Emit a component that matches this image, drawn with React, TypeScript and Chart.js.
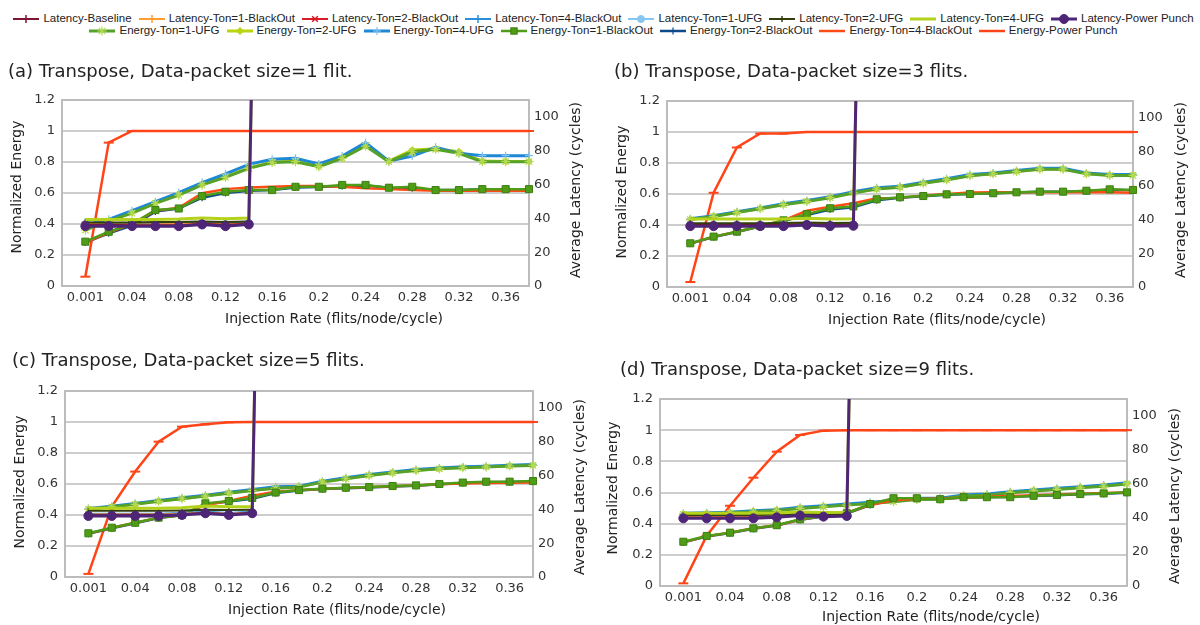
import React, { useEffect, useRef } from 'react';
import { Chart, registerables } from 'chart.js';
Chart.register(...registerables);

const FONT = '"DejaVu Sans", sans-serif';
const LEGEND_FONT = '"Liberation Sans", Arial, sans-serif';
const _ = null;

// ---------- categories & ticks ----------
const categories = ['0.001', '0.02', '0.04', '0.06', '0.08', '0.1', '0.12', '0.14', '0.16', '0.18', '0.2', '0.22', '0.24', '0.26', '0.28', '0.3', '0.32', '0.34', '0.36', '0.38'];
const xLabelIndices = [0, 2, 4, 6, 8, 10, 12, 14, 16, 18];
const energyTickValues = [0, 0.2, 0.4, 0.6, 0.8, 1.0, 1.2];
const energyTickLabels = ['0', '0.2', '0.4', '0.6', '0.8', '1', '1.2'];
const latencyTickValues = [0, 20, 40, 60, 80, 100];
const latencyTickLabels = ['0', '20', '40', '60', '80', '100'];

const seriesNames = [
  'Latency-Baseline', 'Latency-Ton=1-BlackOut', 'Latency-Ton=2-BlackOut', 'Latency-Ton=4-BlackOut',
  'Latency-Ton=1-UFG', 'Latency-Ton=2-UFG', 'Latency-Ton=4-UFG', 'Latency-Power Punch',
  'Energy-Ton=1-UFG', 'Energy-Ton=2-UFG', 'Energy-Ton=4-UFG', 'Energy-Ton=1-BlackOut',
  'Energy-Ton=2-BlackOut', 'Energy-Ton=4-BlackOut', 'Energy-Power Punch',
];

// ---------- panel (a) size=1 ----------
const aLatBaseline = [36.2, 36.2, 36.0, 36.0, 36.0, 36.8, 36.2, 36.8, _, _, _, _, _, _, _, _, _, _, _, _];
const aLatT1BO = [36.6, 36.4, 36.4, 36.4, 36.6, 37.0, 36.6, 37.0, _, _, _, _, _, _, _, _, _, _, _, _];
const aLatT2BO = [36.4, 36.2, 36.2, 36.2, 36.4, 36.9, 36.4, 36.9, _, _, _, _, _, _, _, _, _, _, _, _];
const aLatT4BO = [37.6, 37.2, 37.0, 37.0, 37.2, 37.6, 37.2, 37.6, _, _, _, _, _, _, _, _, _, _, _, _];
const aLatT1UFG = [36.8, 36.8, 36.6, 36.6, 36.8, 37.2, 36.8, 37.2, _, _, _, _, _, _, _, _, _, _, _, _];
const aLatT2UFG = [37.6, 37.6, 37.6, 37.8, 37.8, 38.2, 37.8, 38.2, _, _, _, _, _, _, _, _, _, _, _, _];
const aLatT4UFG = [39.4, 39.4, 39.4, 39.4, 39.6, 40.2, 39.8, 40.2, 700, _, _, _, _, _, _, _, _, _, _, _];
const aLatPP = [35.4, 35.4, 35.4, 35.4, 35.4, 36.4, 35.4, 36.4, 750, _, _, _, _, _, _, _, _, _, _, _];
const aEnT1UFG = [0.36, 0.42, 0.47, 0.533, 0.586, 0.652, 0.701, 0.759, 0.796, 0.802, 0.77, 0.824, 0.903, 0.802, 0.866, 0.882, 0.856, 0.802, 0.802, 0.802];
const aEnT2UFG = [0.37, 0.42, 0.475, 0.537, 0.59, 0.655, 0.705, 0.762, 0.8, 0.806, 0.773, 0.828, 0.906, 0.806, 0.877, 0.885, 0.866, 0.806, 0.804, 0.804];
const aEnT4UFG = [0.39, 0.43, 0.486, 0.544, 0.602, 0.667, 0.723, 0.785, 0.817, 0.824, 0.787, 0.839, 0.925, 0.806, 0.839, 0.895, 0.856, 0.841, 0.841, 0.841];
const aEnT1BO = [0.286, 0.35, 0.4, 0.49, 0.5, 0.58, 0.608, 0.619, 0.619, 0.64, 0.64, 0.652, 0.652, 0.634, 0.64, 0.619, 0.619, 0.625, 0.625, 0.625];
const aEnT2BO = [0.28, 0.34, 0.39, 0.48, 0.5, 0.57, 0.6, 0.615, 0.62, 0.635, 0.638, 0.645, 0.648, 0.634, 0.63, 0.62, 0.62, 0.625, 0.625, 0.625];
const aEnT4BO = [0.28, 0.345, 0.4, 0.486, 0.505, 0.598, 0.625, 0.636, 0.64, 0.645, 0.645, 0.64, 0.63, 0.625, 0.619, 0.615, 0.615, 0.615, 0.615, 0.615];
const aEnPP = [0.06, 0.925, 1, 1, 1, 1, 1, 1, 1, 1, 1, 1, 1, 1, 1, 1, 1, 1, 1, 1];

// ---------- panel (b) size=3 ----------
const bLatBaseline = [36.6, 36.6, 36.6, 36.6, 36.6, 37.2, 36.6, 36.8, _, _, _, _, _, _, _, _, _, _, _, _];
const bLatT1BO = [36.8, 36.8, 36.8, 36.8, 36.8, 37.4, 36.8, 37.0, _, _, _, _, _, _, _, _, _, _, _, _];
const bLatT2BO = [36.7, 36.7, 36.7, 36.7, 36.7, 37.3, 36.7, 36.9, _, _, _, _, _, _, _, _, _, _, _, _];
const bLatT4BO = [37.2, 37.2, 37.2, 37.2, 37.2, 37.6, 37.2, 37.4, _, _, _, _, _, _, _, _, _, _, _, _];
const bLatT1UFG = [37.0, 37.0, 37.0, 37.0, 37.0, 37.5, 37.0, 37.2, _, _, _, _, _, _, _, _, _, _, _, _];
const bLatT2UFG = [37.7, 37.7, 37.7, 37.7, 37.8, 38.2, 37.8, 38.0, _, _, _, _, _, _, _, _, _, _, _, _];
const bLatT4UFG = [40.2, 40.2, 40.2, 40.2, 40.2, 40.6, 40.2, 40.4, 700, _, _, _, _, _, _, _, _, _, _, _];
const bLatPP = [36.0, 36.0, 36.0, 36.0, 36.0, 36.6, 36.0, 36.2, 750, _, _, _, _, _, _, _, _, _, _, _];
const bEnT1UFG = [0.435, 0.455, 0.48, 0.505, 0.531, 0.552, 0.576, 0.607, 0.632, 0.643, 0.669, 0.691, 0.718, 0.73, 0.745, 0.76, 0.76, 0.73, 0.72, 0.72];
const bEnT2UFG = [0.437, 0.457, 0.482, 0.507, 0.533, 0.554, 0.578, 0.609, 0.634, 0.645, 0.671, 0.693, 0.72, 0.732, 0.747, 0.762, 0.762, 0.732, 0.722, 0.724];
const bEnT4UFG = [0.44, 0.46, 0.485, 0.51, 0.537, 0.558, 0.582, 0.614, 0.64, 0.65, 0.676, 0.698, 0.726, 0.736, 0.751, 0.766, 0.766, 0.736, 0.726, 0.726];
const bEnT1BO = [0.282, 0.325, 0.357, 0.394, 0.43, 0.47, 0.508, 0.52, 0.566, 0.579, 0.587, 0.598, 0.6, 0.605, 0.611, 0.615, 0.615, 0.621, 0.63, 0.626];
const bEnT2BO = [0.28, 0.322, 0.355, 0.39, 0.425, 0.465, 0.5, 0.515, 0.56, 0.575, 0.585, 0.595, 0.6, 0.605, 0.61, 0.615, 0.615, 0.62, 0.628, 0.625];
const bEnT4BO = [0.28, 0.325, 0.357, 0.394, 0.43, 0.492, 0.518, 0.54, 0.572, 0.575, 0.59, 0.6, 0.61, 0.611, 0.611, 0.611, 0.611, 0.611, 0.611, 0.608];
const bEnPP = [0.032, 0.608, 0.9, 0.99, 0.99, 1, 1, 1, 1, 1, 1, 1, 1, 1, 1, 1, 1, 1, 1, 1];

// ---------- panel (c) size=5 ----------
const cLatBaseline = [36.6, 36.6, 36.6, 36.6, 37.0, 38.0, 37.0, 38.0, _, _, _, _, _, _, _, _, _, _, _, _];
const cLatT1BO = [36.9, 36.9, 36.9, 36.9, 37.2, 38.2, 37.2, 38.2, _, _, _, _, _, _, _, _, _, _, _, _];
const cLatT2BO = [36.8, 36.8, 36.8, 36.8, 37.1, 38.1, 37.1, 38.1, _, _, _, _, _, _, _, _, _, _, _, _];
const cLatT4BO = [37.4, 37.4, 37.4, 37.4, 37.8, 38.6, 37.8, 38.6, _, _, _, _, _, _, _, _, _, _, _, _];
const cLatT1UFG = [37.1, 37.1, 37.1, 37.1, 37.5, 38.4, 37.5, 38.4, _, _, _, _, _, _, _, _, _, _, _, _];
const cLatT2UFG = [39.2, 39.2, 39.2, 39.2, 39.4, 39.8, 39.6, 39.8, _, _, _, _, _, _, _, _, _, _, _, _];
const cLatT4UFG = [40.6, 40.6, 40.6, 40.6, 41.0, 42.0, 41.5, 41.5, 700, _, _, _, _, _, _, _, _, _, _, _];
const cLatPP = [36.1, 36.1, 36.1, 36.1, 36.7, 37.7, 36.7, 37.7, 750, _, _, _, _, _, _, _, _, _, _, _];
const cEnT1UFG = [0.437, 0.452, 0.469, 0.488, 0.505, 0.522, 0.541, 0.558, 0.572, 0.58, 0.612, 0.634, 0.655, 0.672, 0.687, 0.698, 0.705, 0.71, 0.716, 0.72];
const cEnT2UFG = [0.439, 0.454, 0.471, 0.49, 0.507, 0.524, 0.543, 0.56, 0.575, 0.582, 0.614, 0.636, 0.657, 0.674, 0.689, 0.7, 0.707, 0.712, 0.718, 0.722];
const cEnT4UFG = [0.442, 0.457, 0.474, 0.493, 0.511, 0.528, 0.547, 0.564, 0.582, 0.586, 0.618, 0.64, 0.661, 0.678, 0.693, 0.704, 0.711, 0.715, 0.721, 0.726];
const cEnT1BO = [0.282, 0.318, 0.35, 0.383, 0.4, 0.475, 0.49, 0.51, 0.545, 0.561, 0.57, 0.576, 0.58, 0.587, 0.591, 0.6, 0.609, 0.615, 0.615, 0.619];
const cEnT2BO = [0.279, 0.315, 0.347, 0.38, 0.398, 0.47, 0.487, 0.505, 0.542, 0.558, 0.567, 0.573, 0.578, 0.584, 0.589, 0.598, 0.606, 0.612, 0.613, 0.616];
const cEnT4BO = [0.28, 0.318, 0.35, 0.383, 0.4, 0.465, 0.49, 0.525, 0.55, 0.56, 0.57, 0.575, 0.58, 0.585, 0.59, 0.598, 0.603, 0.606, 0.608, 0.61];
const cEnPP = [0.02, 0.454, 0.68, 0.873, 0.97, 0.985, 0.998, 1, 1, 1, 1, 1, 1, 1, 1, 1, 1, 1, 1, 1];

// ---------- panel (d) size=9 ----------
const dLatBaseline = [40.2, 40.2, 40.2, 40.2, 40.8, 41.8, 41.2, 41.6, _, _, _, _, _, _, _, _, _, _, _, _];
const dLatT1BO = [40.5, 40.5, 40.5, 40.5, 41.0, 42.0, 41.4, 41.8, _, _, _, _, _, _, _, _, _, _, _, _];
const dLatT2BO = [40.4, 40.4, 40.4, 40.4, 40.9, 41.9, 41.3, 41.7, _, _, _, _, _, _, _, _, _, _, _, _];
const dLatT4BO = [40.9, 40.9, 40.9, 40.9, 41.3, 42.2, 41.6, 42.0, _, _, _, _, _, _, _, _, _, _, _, _];
const dLatT1UFG = [40.6, 40.6, 40.6, 40.6, 41.1, 42.1, 41.5, 41.9, _, _, _, _, _, _, _, _, _, _, _, _];
const dLatT2UFG = [41.8, 41.8, 41.8, 41.8, 42.0, 42.6, 42.2, 42.4, _, _, _, _, _, _, _, _, _, _, _, _];
const dLatT4UFG = [42.8, 42.8, 42.8, 42.8, 43.0, 43.6, 43.2, 43.4, 700, _, _, _, _, _, _, _, _, _, _, _];
const dLatPP = [39.8, 39.8, 39.8, 39.8, 40.4, 41.4, 40.8, 41.2, 750, _, _, _, _, _, _, _, _, _, _, _];
const dEnT1UFG = [0.46, 0.463, 0.468, 0.476, 0.484, 0.498, 0.508, 0.519, 0.53, 0.541, 0.555, 0.556, 0.577, 0.583, 0.598, 0.61, 0.62, 0.63, 0.64, 0.655];
const dEnT2UFG = [0.463, 0.466, 0.471, 0.479, 0.487, 0.501, 0.511, 0.522, 0.533, 0.544, 0.558, 0.559, 0.58, 0.586, 0.601, 0.613, 0.623, 0.633, 0.644, 0.659];
const dEnT4UFG = [0.467, 0.47, 0.474, 0.483, 0.49, 0.505, 0.515, 0.526, 0.537, 0.548, 0.563, 0.563, 0.584, 0.59, 0.605, 0.616, 0.627, 0.637, 0.648, 0.663];
const dEnT1BO = [0.284, 0.321, 0.342, 0.37, 0.39, 0.428, 0.449, 0.467, 0.526, 0.563, 0.563, 0.557, 0.57, 0.57, 0.57, 0.579, 0.584, 0.59, 0.594, 0.601];
const dEnT2BO = [0.28, 0.318, 0.34, 0.368, 0.388, 0.425, 0.446, 0.465, 0.52, 0.555, 0.56, 0.558, 0.568, 0.57, 0.572, 0.578, 0.583, 0.588, 0.592, 0.598];
const dEnT4BO = [0.28, 0.32, 0.342, 0.37, 0.39, 0.425, 0.45, 0.47, 0.52, 0.55, 0.56, 0.562, 0.567, 0.572, 0.577, 0.582, 0.587, 0.592, 0.596, 0.6];
const dEnPP = [0.017, 0.323, 0.515, 0.695, 0.862, 0.969, 0.997, 1, 1, 1, 1, 1, 1, 1, 1, 1, 1, 1, 1, 1];

// ---------- styles ----------
type Marker = 'cross' | 'crossRot' | 'star' | 'circle' | 'rect' | 'rectRot' | 'line' | 'vline' | 'none';
type SeriesStyle = {
  axis: 'y' | 'y1'; color: string; width: number; marker: Marker; radius: number;
  fill: string; stroke: string; pbw: number; order: number;
};
const seriesStyles: SeriesStyle[] = [
  { axis: 'y1', color: '#7e1533', width: 2, marker: 'cross', radius: 4, fill: '#7e1533', stroke: '#7e1533', pbw: 1.5, order: 3 },
  { axis: 'y1', color: '#ff9d2e', width: 2, marker: 'cross', radius: 4, fill: '#ff9d2e', stroke: '#ff9d2e', pbw: 1.5, order: 3 },
  { axis: 'y1', color: '#d81b27', width: 2, marker: 'crossRot', radius: 4, fill: '#d81b27', stroke: '#d81b27', pbw: 1.5, order: 3 },
  { axis: 'y1', color: '#2a8fdb', width: 2, marker: 'cross', radius: 4, fill: '#2a8fdb', stroke: '#2a8fdb', pbw: 1.5, order: 3 },
  { axis: 'y1', color: '#86c7f2', width: 2, marker: 'circle', radius: 3.5, fill: '#86c7f2', stroke: '#86c7f2', pbw: 1, order: 3 },
  { axis: 'y1', color: '#323e0e', width: 2, marker: 'vline', radius: 3, fill: '#323e0e', stroke: '#323e0e', pbw: 1.5, order: 2 },
  { axis: 'y1', color: '#b4d21c', width: 3, marker: 'none', radius: 0, fill: '#b4d21c', stroke: '#b4d21c', pbw: 0, order: 1 },
  { axis: 'y1', color: '#4e2577', width: 3, marker: 'circle', radius: 4.5, fill: '#4e2577', stroke: '#4e2577', pbw: 1, order: 0 },
  { axis: 'y', color: '#56a129', width: 3, marker: 'star', radius: 4.5, fill: '#b5da52', stroke: '#b5da52', pbw: 1.2, order: 5 },
  { axis: 'y', color: '#bad412', width: 3, marker: 'rectRot', radius: 3.5, fill: '#bad412', stroke: '#bad412', pbw: 1, order: 7 },
  { axis: 'y', color: '#1e88d6', width: 3, marker: 'cross', radius: 4, fill: '#7fc1ee', stroke: '#7fc1ee', pbw: 1.2, order: 6 },
  { axis: 'y', color: '#4f9c17', width: 2.5, marker: 'rect', radius: 5, fill: '#4f9c17', stroke: '#3d7f10', pbw: 1, order: 3 },
  { axis: 'y', color: '#0c4a8a', width: 2.5, marker: 'cross', radius: 3.5, fill: '#0c4a8a', stroke: '#0c4a8a', pbw: 1.2, order: 5 },
  { axis: 'y', color: '#ff4b16', width: 2.5, marker: 'none', radius: 0, fill: '#ff4b16', stroke: '#ff4b16', pbw: 0, order: 4 },
  { axis: 'y', color: '#ff4417', width: 2.5, marker: 'line', radius: 5, fill: '#ff4417', stroke: '#ff4417', pbw: 2, order: 8 },
];

type Geo = {
  cx: number; cy: number; cw: number; ch: number;
  pl: number; pr: number; pt: number; pb: number;
  title: [number, number]; yTitle: [number, number]; rTitle: [number, number]; xTitle: [number, number];
};
type PanelDef = { title: string; values: (number | null)[][]; geo: Geo };

const panels: PanelDef[] = [
  {
    title: '(a) Transpose, Data-packet size=1 flit.',
    values: [aLatBaseline, aLatT1BO, aLatT2BO, aLatT4BO, aLatT1UFG, aLatT2UFG, aLatT4UFG, aLatPP, aEnT1UFG, aEnT2UFG, aEnT4UFG, aEnT1BO, aEnT2BO, aEnT4BO, aEnPP],
    geo: { cx: 0, cy: 45, cw: 600, ch: 290, pl: 62, pr: 529, pt: 100, pb: 286, title: [8, 72], yTitle: [17, 187], rTitle: [576, 190], xTitle: [334, 319] },
  },
  {
    title: '(b) Transpose, Data-packet size=3 flits.',
    values: [bLatBaseline, bLatT1BO, bLatT2BO, bLatT4BO, bLatT1UFG, bLatT2UFG, bLatT4UFG, bLatPP, bEnT1UFG, bEnT2UFG, bEnT4UFG, bEnT1BO, bEnT2BO, bEnT4BO, bEnPP],
    geo: { cx: 600, cy: 45, cw: 600, ch: 290, pl: 667, pr: 1133, pt: 101, pb: 287, title: [614, 72], yTitle: [622, 192], rTitle: [1181, 190], xTitle: [937, 320] },
  },
  {
    title: '(c) Transpose, Data-packet size=5 flits.',
    values: [cLatBaseline, cLatT1BO, cLatT2BO, cLatT4BO, cLatT1UFG, cLatT2UFG, cLatT4UFG, cLatPP, cEnT1UFG, cEnT2UFG, cEnT4UFG, cEnT1BO, cEnT2BO, cEnT4BO, cEnPP],
    geo: { cx: 0, cy: 335, cw: 600, ch: 290, pl: 65, pr: 533, pt: 391, pb: 577, title: [12, 361], yTitle: [20, 482], rTitle: [580, 487], xTitle: [337, 610] },
  },
  {
    title: '(d) Transpose, Data-packet size=9 flits.',
    values: [dLatBaseline, dLatT1BO, dLatT2BO, dLatT4BO, dLatT1UFG, dLatT2UFG, dLatT4UFG, dLatPP, dEnT1UFG, dEnT2UFG, dEnT4UFG, dEnT1BO, dEnT2BO, dEnT4BO, dEnPP],
    geo: { cx: 600, cy: 335, cw: 600, ch: 290, pl: 660, pr: 1127, pt: 399, pb: 586, title: [620, 370], yTitle: [613, 488], rTitle: [1175, 496], xTitle: [931, 617] },
  },
];

const Y_TITLE = 'Normalized Energy';
const R_TITLE = 'Average Latency (cycles)';
const X_TITLE = 'Injection Rate (flits/node/cycle)';

function chartPointStyle(m: Marker): any {
  if (m === 'vline') return 'line';
  if (m === 'none') return 'circle';
  return m;
}

const framePlugin = {
  id: 'frame',
  beforeDatasetsDraw(chart: any) {
    const { ctx, chartArea: a } = chart;
    ctx.save();
    ctx.strokeStyle = '#bcbcbc';
    ctx.lineWidth = 2;
    ctx.strokeRect(a.left, a.top, a.right - a.left, a.bottom - a.top);
    ctx.restore();
  },
};

function makeTextPlugin(p: PanelDef) {
  const g = p.geo;
  return {
    id: 'panelText',
    afterDraw(chart: any) {
      const ctx = chart.ctx as CanvasRenderingContext2D;
      ctx.save();
      ctx.fillStyle = '#222';
      ctx.textBaseline = 'middle';
      ctx.font = `18px ${FONT}`;
      ctx.textAlign = 'left';
      ctx.fillText(p.title, g.title[0] - g.cx, g.title[1] - g.cy);
      ctx.font = `14px ${FONT}`;
      ctx.textAlign = 'center';
      ctx.fillText(X_TITLE, g.xTitle[0] - g.cx, g.xTitle[1] - g.cy);
      const rot = (t: string, x: number, y: number) => {
        ctx.save();
        ctx.translate(x - g.cx, y - g.cy);
        ctx.rotate(-Math.PI / 2);
        ctx.fillText(t, 0, 0);
        ctx.restore();
      };
      rot(Y_TITLE, g.yTitle[0], g.yTitle[1]);
      rot(R_TITLE, g.rTitle[0], g.rTitle[1]);
      ctx.restore();
    },
  };
}

function Panel({ p }: { p: PanelDef }) {
  const ref = useRef<HTMLCanvasElement | null>(null);
  const g = p.geo;
  useEffect(() => {
    if (!ref.current) return;
    const datasets = seriesStyles.map((s, k) => ({
      label: seriesNames[k],
      data: p.values[k].map((v, i) => ({ x: i, y: v })),
      yAxisID: s.axis,
      borderColor: s.color,
      backgroundColor: s.color,
      borderWidth: s.width,
      pointStyle: chartPointStyle(s.marker),
      pointRotation: s.marker === 'vline' ? 90 : 0,
      pointRadius: s.marker === 'none' ? 0 : s.radius,
      pointHoverRadius: 0,
      pointBackgroundColor: s.fill,
      pointBorderColor: s.stroke,
      pointBorderWidth: s.pbw,
      tension: 0,
      spanGaps: false,
      order: s.order,
      clip: s.axis === 'y1' ? { left: 8, right: 8, top: 0, bottom: 8 } : 8,
    }));
    const tickFont = { family: FONT, size: 13 };
    const chart = new Chart(ref.current, {
      type: 'line',
      data: { datasets } as any,
      options: {
        responsive: false,
        animation: false,
        devicePixelRatio: 1,
        events: [],
        layout: { padding: { top: g.pt - g.cy, left: 0, right: 0, bottom: 0 } },
        plugins: { legend: { display: false }, tooltip: { enabled: false }, title: { display: false } },
        scales: {
          x: {
            type: 'linear', min: -1, max: 19,
            grid: { display: false, drawTicks: false },
            border: { display: false },
            afterBuildTicks: (s: any) => { s.ticks = xLabelIndices.map((v) => ({ value: v })); },
            ticks: {
              callback: (v: any) => categories[v as number] ?? '',
              font: tickFont, color: '#333', padding: 4, autoSkip: false, maxRotation: 0, minRotation: 0,
            },
            afterFit: (s: any) => { s.height = g.cy + g.ch - g.pb; },
          },
          y: {
            type: 'linear', position: 'left', min: 0, max: 1.2,
            grid: { color: '#cdcdcd', lineWidth: 2, drawTicks: false },
            border: { display: false },
            afterBuildTicks: (s: any) => { s.ticks = energyTickValues.map((v) => ({ value: v })); },
            ticks: { callback: (_v: any, i: number) => energyTickLabels[i], font: tickFont, color: '#333', padding: 7 },
            afterFit: (s: any) => { s.width = g.pl - g.cx; },
          },
          y1: {
            type: 'linear', position: 'right', min: 0, max: 110,
            grid: { display: false, drawTicks: false },
            border: { display: false },
            afterBuildTicks: (s: any) => { s.ticks = latencyTickValues.map((v) => ({ value: v })); },
            ticks: { callback: (_v: any, i: number) => latencyTickLabels[i], font: tickFont, color: '#333', padding: 5 },
            afterFit: (s: any) => { s.width = g.cx + g.cw - g.pr; },
          },
        },
      } as any,
      plugins: [framePlugin, makeTextPlugin(p)],
    });
    return () => chart.destroy();
  }, []);
  return (
    <canvas
      ref={ref}
      width={g.cw}
      height={g.ch}
      style={{ position: 'absolute', left: g.cx, top: g.cy, width: g.cw, height: g.ch }}
    />
  );
}

function Swatch({ s }: { s: SeriesStyle }) {
  const w = 26, h = 12, cx = 13, cy = 6, r = Math.min(s.radius, 4.5);
  let mk: React.ReactNode = null;
  const st = { stroke: s.stroke, strokeWidth: s.pbw || 1.2 };
  switch (s.marker) {
    case 'cross':
      mk = <g {...st}><line x1={cx - r} y1={cy} x2={cx + r} y2={cy} /><line x1={cx} y1={cy - r} x2={cx} y2={cy + r} /></g>; break;
    case 'crossRot': {
      const d = r * 0.707;
      mk = <g {...st}><line x1={cx - d} y1={cy - d} x2={cx + d} y2={cy + d} /><line x1={cx - d} y1={cy + d} x2={cx + d} y2={cy - d} /></g>; break;
    }
    case 'star': {
      const d = r * 0.707;
      mk = <g {...st}><line x1={cx - r} y1={cy} x2={cx + r} y2={cy} /><line x1={cx} y1={cy - r} x2={cx} y2={cy + r} /><line x1={cx - d} y1={cy - d} x2={cx + d} y2={cy + d} /><line x1={cx - d} y1={cy + d} x2={cx + d} y2={cy - d} /></g>; break;
    }
    case 'circle':
      mk = <circle cx={cx} cy={cy} r={r} fill={s.fill} stroke={s.stroke} />; break;
    case 'rect': {
      const d = r * 0.707;
      mk = <rect x={cx - d} y={cy - d} width={2 * d} height={2 * d} fill={s.fill} stroke={s.stroke} />; break;
    }
    case 'rectRot':
      mk = <polygon points={`${cx},${cy - r} ${cx + r},${cy} ${cx},${cy + r} ${cx - r},${cy}`} fill={s.fill} stroke={s.stroke} />; break;
    case 'vline':
      mk = <line x1={cx} y1={cy - r} x2={cx} y2={cy + r} {...st} />; break;
    default:
      mk = null;
  }
  return (
    <svg width={w} height={h} style={{ display: 'block', flex: 'none' }}>
      <line x1={0} y1={cy} x2={w} y2={cy} stroke={s.color} strokeWidth={Math.min(s.width, 3)} />
      {mk}
    </svg>
  );
}

function LegendRow({ idx, top }: { idx: number[]; top: number }) {
  return (
    <div style={{ position: 'absolute', left: 0, top, width: 1214, display: 'flex', justifyContent: 'center', alignItems: 'center', height: 13 }}>
      {idx.map((k) => (
        <div key={k} style={{ display: 'flex', alignItems: 'center', marginRight: 7 }}>
          <Swatch s={seriesStyles[k]} />
          <span style={{ marginLeft: 4, font: `11.5px ${LEGEND_FONT}`, color: '#222', whiteSpace: 'nowrap', lineHeight: '13px' }}>{seriesNames[k]}</span>
        </div>
      ))}
    </div>
  );
}

export default function App() {
  return (
    <div style={{ position: 'absolute', left: 0, top: 0, width: 1200, height: 625, background: '#fff', overflow: 'hidden' }}>
      <LegendRow idx={[0, 1, 2, 3, 4, 5, 6, 7]} top={12} />
      <LegendRow idx={[8, 9, 10, 11, 12, 13, 14]} top={24} />
      {panels.map((p, i) => <Panel key={i} p={p} />)}
    </div>
  );
}
